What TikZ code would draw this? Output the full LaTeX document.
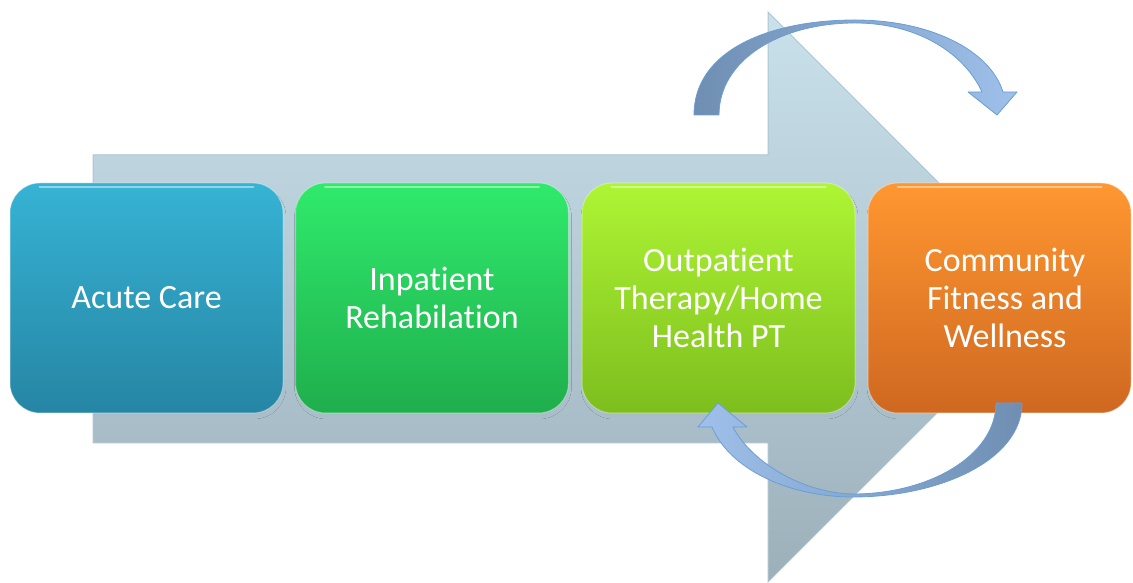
\documentclass[tikz,border=0pt]{standalone}
\usepackage{fontspec}
\setmainfont{Carlito}[Ligatures=CommonOff]
\usetikzlibrary{shadows.blur}
\definecolor{shaftT}{HTML}{C9E1EB}
\definecolor{shaftB}{HTML}{9CB0BA}
\definecolor{shaftL}{HTML}{AFC6D1}
\definecolor{tealT}{HTML}{36B3D4}
\definecolor{tealB}{HTML}{2685A4}
\definecolor{grnT}{HTML}{30EA6C}
\definecolor{grnB}{HTML}{1FAE4C}
\definecolor{limT}{HTML}{AEF534}
\definecolor{limB}{HTML}{7DBE1E}
\definecolor{orgT}{HTML}{FF9731}
\definecolor{orgB}{HTML}{CF6820}
\definecolor{arrD}{HTML}{6F8EB2}
\definecolor{arrL}{HTML}{9EC0EA}
\definecolor{arrS}{HTML}{6A9ED6}
\tikzset{
  stagebox/.style={rounded corners=30pt, minimum width=273pt, minimum height=230pt,
    text=white, align=center, font=\fontsize{34}{38}\selectfont,
    draw=white, draw opacity=0.35, line width=1pt,
    blur shadow={shadow xshift=1pt, shadow yshift=-4pt, shadow opacity=0.45, shadow blur steps=8}},
  stagetext/.style={text=white, align=center, font=\fontsize{34}{38}\selectfont},
  cyclearrow/.style={draw=arrS, line width=0.8pt, line join=round}
}
\begin{document}
\begin{tikzpicture}[x=1pt,y=1pt]
\useasboundingbox (0,0) rectangle (1133,583);
% big background arrow
\shade[top color=shaftT, bottom color=shaftB, draw=shaftL, line width=1pt]
  (93,140) -- (93,428) -- (768,428) -- (768,571) -- (1053,286) -- (768,1) -- (768,140) -- cycle;
% stage boxes
\node[stagebox, top color=tealT, bottom color=tealB] (acute) at (146.5,285) {Acute Care};
\node[stagebox, top color=grnT, bottom color=grnB] (inpat) at (432,285) {Inpatient\\Rehabilation};
\node[stagebox, top color=limT, bottom color=limB] (outpat) at (718.5,285) {Outpatient\\Therapy/Home\\Health PT};
\node[stagebox, minimum width=263pt, top color=orgT, bottom color=orgB] (comm) at (999.5,285) {};
\node[stagetext] (commtext) at (1005,285) {Community\\Fitness and\\Wellness};
% glossy highlights
\foreach \n in {acute,inpat,outpat,comm}{
  \draw[white, opacity=0.45, line width=2pt, line cap=round]
    ([xshift=30pt,yshift=-5pt]\n.north west) -- ([xshift=-30pt,yshift=-5pt]\n.north east);
}
% top curved arrow (outpatient -> community)
\shade[cyclearrow, left color=arrD, right color=arrL]
  (694,468) .. controls (694,533) and (770,563) .. (855,563)
  .. controls (930,563) and (990,533) .. (1003,491)
  -- (1017,491) -- (997,468) -- (968,491) -- (982,491)
  .. controls (965,528) and (920,560) .. (855,560)
  .. controls (780,560) and (719,523) .. (719,468) -- cycle;
% bottom curved arrow (community -> outpatient)
\shade[cyclearrow, left color=arrL, right color=arrD]
  (1022,180) .. controls (1022,123) and (940,86) .. (853,86)
  .. controls (790,86) and (730,113) .. (712,156)
  -- (698,156) -- (718,180) -- (747,156) -- (733,156)
  .. controls (750,123) and (800,90) .. (853,89)
  .. controls (930,89) and (996,128) .. (996,180) -- cycle;
\end{tikzpicture}
\end{document}
